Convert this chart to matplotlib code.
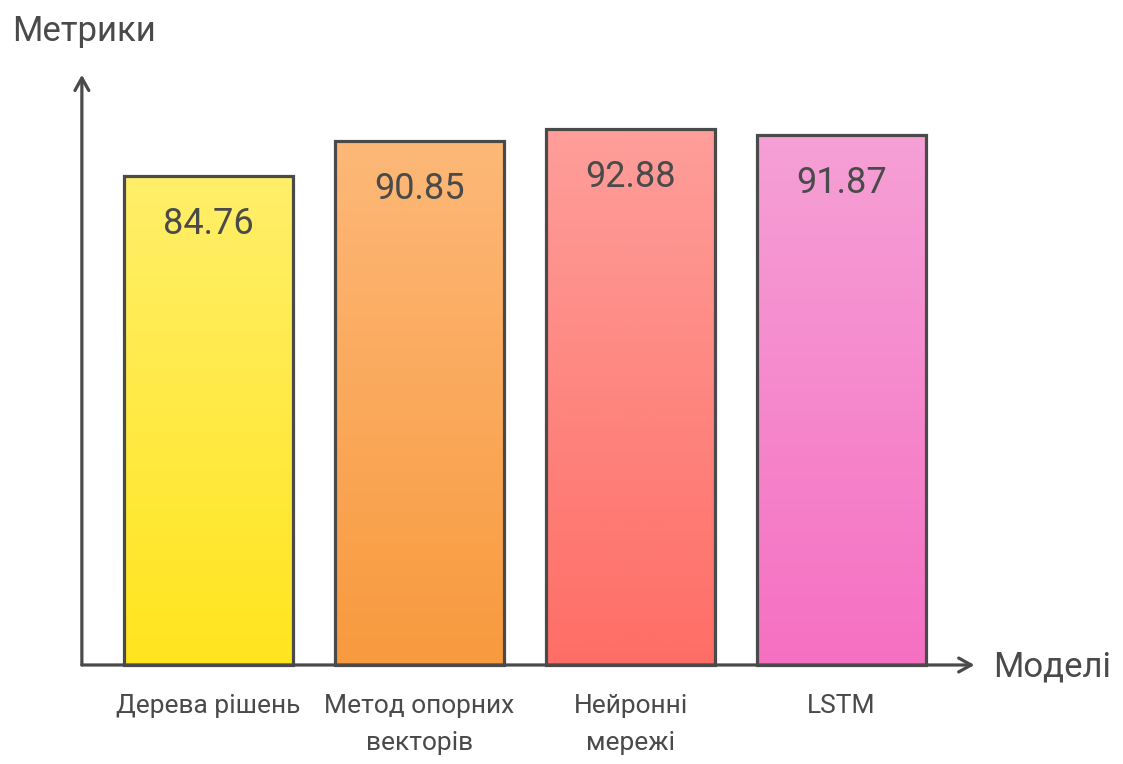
import matplotlib
matplotlib.use("Agg")
import matplotlib.pyplot as plt
import matplotlib.colors as mcolors
import numpy as np

categories = ["Дерева рішень", "Метод опорних\nвекторів", "Нейронні\nмережі", "LSTM"]
values = [84.76, 90.85, 92.88, 91.87]
top_colors = ["#FFEF6A", "#FDB878", "#FE9E9A", "#F6A0D6"]
bottom_colors = ["#FFE51E", "#F89A3E", "#FE6E66", "#F570C2"]
y_title = "Метрики"
x_title = "Моделі"

ink = "#4a4a4a"
fonts = ["Roboto", "DejaVu Sans"]

fig = plt.figure(figsize=(11.23, 7.64), dpi=100)
ax = fig.add_axes([0, 0, 1, 1])
ax.set_xlim(-0.988, 4.334)
ax.set_ylim(-17.16, 115.25)
ax.set_axis_off()

x = np.arange(len(categories))
bars = ax.bar(x, values, width=0.8, facecolor="none", edgecolor=ink, linewidth=2.3, zorder=3)

grad = np.linspace(0, 1, 256).reshape(-1, 1)
for b, c_top, c_bot, v in zip(bars, top_colors, bottom_colors, values):
    cmap = mcolors.LinearSegmentedColormap.from_list("g", [c_bot, c_top])
    x0, w, h = b.get_x(), b.get_width(), b.get_height()
    im = ax.imshow(grad, cmap=cmap, aspect="auto", origin="lower",
                   extent=(x0, x0 + w, 0, h), zorder=2)
    im.set_clip_path(b)
    ax.text(b.get_x() + w / 2, h - 8.3, f"{v:.2f}", ha="center", va="center",
            fontsize=26, color=ink, family=fonts, zorder=4)

for xi, lab in zip(x, categories):
    ax.text(xi, -5.0, lab, ha="center", va="top", fontsize=19, color=ink,
            family=fonts, linespacing=1.7)

# axes with open arrow heads
arrow = dict(arrowstyle="->,head_length=0.9,head_width=0.5", color=ink, lw=2.3,
             shrinkA=0, shrinkB=0)
ax.annotate("", xy=(-0.6, 102.3), xytext=(-0.6, 0), zorder=5, arrowprops=arrow)
ax.annotate("", xy=(3.63, 0), xytext=(-0.6, 0), zorder=5, arrowprops=arrow)

ax.text(-0.93, 109.8, y_title, ha="left", va="center", fontsize=25, color=ink, family=fonts)
ax.text(3.72, -0.4, x_title, ha="left", va="center", fontsize=25, color=ink, family=fonts)

fig.savefig("out.png", dpi=100)
